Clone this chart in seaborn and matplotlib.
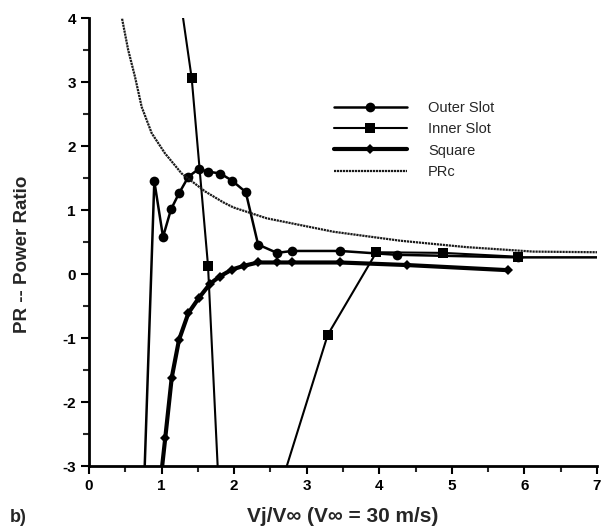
import numpy as np
import pandas as pd
import matplotlib
matplotlib.use("Agg")
import matplotlib.pyplot as plt
import seaborn as sns
from matplotlib.ticker import MultipleLocator

# ---- data ----
outer_x = [0.75, 0.90, 1.02, 1.13, 1.24, 1.37, 1.51, 1.64, 1.81, 1.97, 2.16, 2.33, 2.59, 2.80, 3.46, 4.24, 5.91, 7.4]
outer_y = [-3.6, 1.45, 0.58, 1.01, 1.26, 1.52, 1.64, 1.60, 1.57, 1.46, 1.28, 0.46, 0.33, 0.36, 0.36, 0.30, 0.26, 0.26]

inner_x = [1.10, 1.415, 1.64, 1.90, 3.29, 3.96, 4.88, 5.91]
inner_y = [5.55, 3.06, 0.13, -6.0, -0.95, 0.34, 0.33, 0.27]

square_x = [0.95, 1.05, 1.14, 1.24, 1.37, 1.51, 1.67, 1.80, 1.97, 2.14, 2.33, 2.59, 2.80, 3.46, 4.38, 5.77]
square_y = [-3.6, -2.57, -1.62, -1.03, -0.61, -0.38, -0.15, -0.04, 0.07, 0.13, 0.18, 0.18, 0.18, 0.18, 0.14, 0.06]

prc_x = [0.44, 0.54, 0.634, 0.726, 0.864, 1.047, 1.277, 1.60, 1.85, 1.99, 2.45, 3.37, 4.29, 5.20, 6.12, 7.0]
prc_y = [4.08, 3.50, 3.08, 2.61, 2.20, 1.885, 1.57, 1.29, 1.12, 1.04, 0.87, 0.66, 0.52, 0.42, 0.35, 0.34]

x_ticks = [0, 1, 2, 3, 4, 5, 6, 7]
y_ticks = [-3, -2, -1, 0, 1, 2, 3, 4]

sns.set_theme(style="ticks")
plt.rcParams['font.family'] = ['Liberation Sans', 'DejaVu Sans']
plt.rcParams['axes.unicode_minus'] = False

fig = plt.figure(figsize=(6.08, 5.32), dpi=100)
ax = fig.add_axes([89/608, 66/532, 508/608, 448/532])

df_outer = pd.DataFrame({"x": outer_x, "y": outer_y})
df_inner = pd.DataFrame({"x": inner_x, "y": inner_y})
df_square = pd.DataFrame({"x": square_x, "y": square_y})
df_prc = pd.DataFrame({"x": prc_x, "y": prc_y})

sns.lineplot(data=df_outer, x="x", y="y", ax=ax, sort=False, estimator=None,
             color="black", lw=1.8, marker="o", markersize=7, markeredgewidth=0,
             label="Outer Slot")
sns.lineplot(data=df_inner, x="x", y="y", ax=ax, sort=False, estimator=None,
             color="black", lw=1.5, marker="s", markersize=6.5, markeredgewidth=0,
             label="Inner Slot")
sns.lineplot(data=df_square, x="x", y="y", ax=ax, sort=False, estimator=None,
             color="black", lw=3.0, marker="D", markersize=5, markeredgewidth=0,
             label="Square")
sns.lineplot(data=df_prc, x="x", y="y", ax=ax, sort=False, estimator=None,
             color="#1a1a1a", lw=1.6, linestyle=(0, (1.0, 0.35)),
             label="PRc")

ax.set_xlim(0, 7)
ax.set_ylim(-3, 4)
ax.set_xticks(x_ticks)
ax.set_yticks(y_ticks)
ax.xaxis.set_minor_locator(MultipleLocator(0.5))
ax.yaxis.set_minor_locator(MultipleLocator(0.5))
ax.tick_params(which="major", direction="out", length=6, width=1.5, labelsize=11, colors="black")
ax.tick_params(which="minor", direction="out", length=4, width=1.5)
for lab in ax.get_xticklabels() + ax.get_yticklabels():
    lab.set_fontweight("bold")
sns.despine(ax=ax)
for s in ["left", "bottom"]:
    ax.spines[s].set_linewidth(2)
    ax.spines[s].set_color("black")

ax.set_xlabel("Vj/V\u221e (V\u221e = 30 m/s)", fontsize=15, fontweight="bold")
ax.xaxis.set_label_coords(0.5, -(516 - 466) / 448, transform=ax.transAxes)
ax.xaxis.label.set_va("center")
ax.set_ylabel("PR -- Power Ratio", fontsize=13.5, fontweight="bold")
ax.yaxis.set_label_coords(-(89 - 23) / 508, (466 - 254) / 448, transform=ax.transAxes)
ax.yaxis.label.set_va("center")
fig.text(10/608, 1 - 517/532, "b)", fontsize=13, fontweight="bold", va="center", ha="left")

leg = ax.legend(loc="upper left", bbox_to_anchor=(334/608, 1 - 101/532),
                bbox_transform=fig.transFigure, frameon=False, fontsize=10.5,
                handlelength=5.0, handletextpad=1.45, labelspacing=0.5,
                borderpad=0, borderaxespad=0)

fig.savefig("out.png", dpi=100)
